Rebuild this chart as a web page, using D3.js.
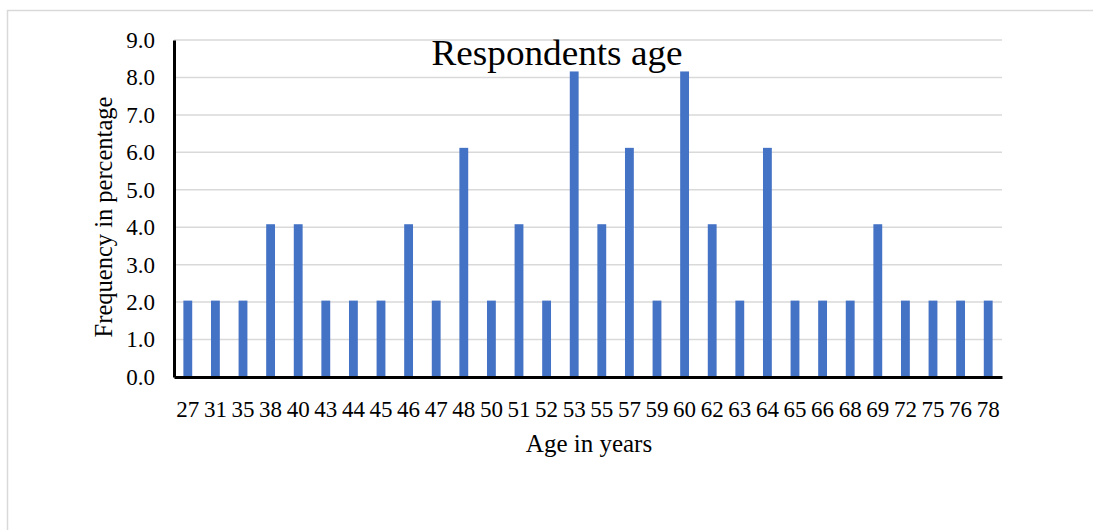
<!DOCTYPE html>
<html><head><meta charset="utf-8">
<script src="https://cdn.jsdelivr.net/npm/d3@7"></script>
<style>html,body{margin:0;padding:0;background:#fff;}svg{display:block;}</style>
</head><body>
<svg id="c" width="1093" height="530"></svg>
<script>
const ages = ["27","31","35","38","40","43","44","45","46","47","48","50","51","52","53","55","57","59","60","62","63","64","65","66","68","69","72","75","76","78"];
const freq = [2.04,2.04,2.04,4.08,4.08,2.04,2.04,2.04,4.08,2.04,6.12,2.04,4.08,2.04,8.16,4.08,6.12,2.04,8.16,4.08,2.04,6.12,2.04,2.04,2.04,4.08,2.04,2.04,2.04,2.04];
const yTicks = [0,1,2,3,4,5,6,7,8,9];

const svg = d3.select("#c");
const font = "'Liberation Serif','Times New Roman',serif";
// outer frame
svg.append("rect").attr("x",7.5).attr("y",10.5).attr("width",1200).attr("height",600)
  .attr("fill","none").attr("stroke","#d9d9d9").attr("stroke-width",1.5);

const L=174, R=1002, T=40, B=377;
const x = d3.scaleBand().domain(ages).range([L,R]).paddingInner(0.68).paddingOuter(0.34);
const y = d3.scaleLinear().domain([0,9]).range([B,T]);

// gridlines
svg.append("g").selectAll("line").data(yTicks.slice(1)).join("line")
  .attr("x1",L).attr("x2",R).attr("y1",d=>y(d)).attr("y2",d=>y(d))
  .attr("stroke","#d9d9d9").attr("stroke-width",1.5);

// title
svg.append("text").attr("x",557).attr("y",65).attr("text-anchor","middle")
  .attr("font-family",font).attr("font-size",36).attr("fill","#000")
  .attr("textLength",251).attr("lengthAdjust","spacingAndGlyphs").text("Respondents age");

// bars
svg.append("g").selectAll("rect").data(ages).join("rect")
  .attr("x",d=>x(d)).attr("width",x.bandwidth())
  .attr("y",(d,i)=>y(freq[i])).attr("height",(d,i)=>B-y(freq[i]))
  .attr("fill","#4472C4");

// y axis
const ya = svg.append("g").attr("transform",`translate(${L},0)`)
  .call(d3.axisLeft(y).tickValues(yTicks).tickFormat(d3.format(".1f")).tickSize(0).tickPadding(19));
ya.select(".domain").attr("stroke","#000").attr("stroke-width",3);
ya.selectAll("text").attr("font-family",font).attr("font-size",23).attr("fill","#000");

// x axis
const xa = svg.append("g").attr("transform",`translate(0,${B})`)
  .call(d3.axisBottom(x).tickSize(0).tickPadding(24));
xa.select(".domain").attr("stroke","#000").attr("stroke-width",3);
xa.selectAll("text").attr("font-family",font).attr("font-size",23).attr("fill","#000");

// axis titles
svg.append("text").attr("x",589).attr("y",452).attr("text-anchor","middle")
  .attr("font-family",font).attr("font-size",25).attr("fill","#000").text("Age in years");
svg.append("text").attr("transform","translate(112,217) rotate(-90)").attr("text-anchor","middle")
  .attr("font-family",font).attr("font-size",24.5).attr("fill","#000").text("Frequency in percentage");
</script>
</body></html>
